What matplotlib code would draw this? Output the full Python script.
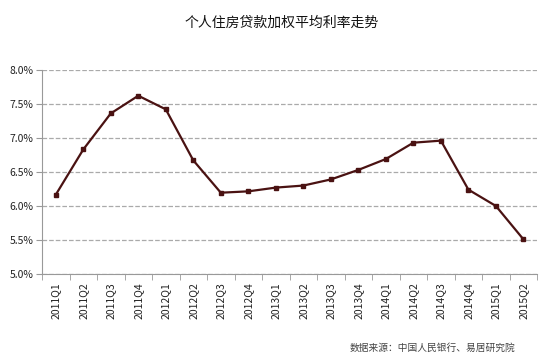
import matplotlib.pyplot as plt
from matplotlib.ticker import FuncFormatter, FixedLocator
import numpy as np

plt.rcParams['font.family'] = ['Noto Sans CJK SC', 'DejaVu Sans']

quarters = ['2011Q1', '2011Q2', '2011Q3', '2011Q4', '2012Q1', '2012Q2',
            '2012Q3', '2012Q4', '2013Q1', '2013Q2', '2013Q3', '2013Q4',
            '2014Q1', '2014Q2', '2014Q3', '2014Q4', '2015Q1', '2015Q2']
rates = [6.165, 6.83, 7.36, 7.62, 7.42, 6.67,
         6.195, 6.215, 6.27, 6.30, 6.39, 6.53,
         6.69, 6.93, 6.96, 6.24, 6.00, 5.51]

title = '个人住房贷款加权平均利率走势'
source = '数据来源：中国人民银行、易居研究院'

fig = plt.figure(figsize=(5.57, 3.62), dpi=100)
ax = fig.add_axes([0.0754, 0.243, 0.889, 0.564])

x = np.arange(len(quarters))
ax.plot(x, rates, color='#4a1212', linewidth=1.6, marker='s', markersize=2.5)

ax.set_xlim(-0.5, len(quarters) - 0.5)
ax.set_ylim(5.0, 8.0)
ax.set_yticks(np.arange(5.0, 8.01, 0.5))
ax.yaxis.set_major_formatter(FuncFormatter(lambda v, p: f'{v:.1f}%'))
ax.set_xticks(x)
ax.set_xticklabels(quarters, rotation=90, fontsize=7.5, color='#222222')
ax.xaxis.set_minor_locator(FixedLocator(np.arange(-0.5, len(quarters), 1.0)))
ax.tick_params(axis='x', which='major', length=0, pad=6)
ax.tick_params(axis='x', which='minor', length=4, color='#999999', direction='out')
ax.tick_params(axis='y', length=4, color='#999999', labelsize=7.5, labelcolor='#222222', pad=2)

ax.grid(axis='y', linestyle='--', color='#aaaaaa', linewidth=0.9)
ax.set_axisbelow(True)
for s in ['top', 'right']:
    ax.spines[s].set_visible(False)
for s in ['left', 'bottom']:
    ax.spines[s].set_color('#999999')

fig.text(0.505, 0.937, title, ha='center', va='center', fontsize=10,
         fontweight='medium', color='#111111')
fig.text(0.925, 0.04, source, ha='right', va='center', fontsize=7, color='#444444')

fig.savefig('out.png', dpi=100)
